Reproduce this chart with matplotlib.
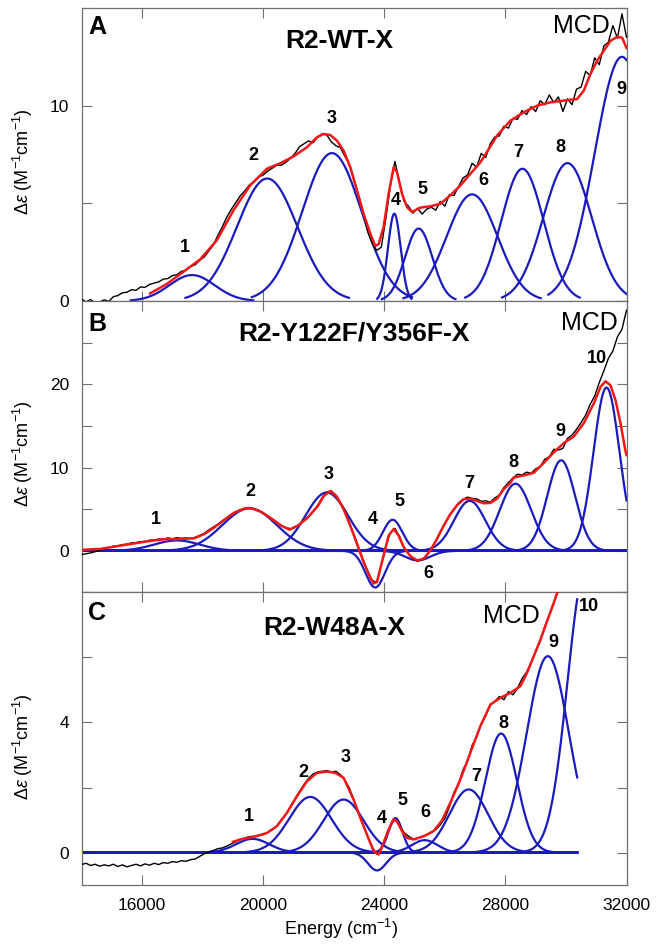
import matplotlib
matplotlib.use('Agg')
import matplotlib.pyplot as plt
import numpy as np

plt.rcParams['font.family'] = ['Liberation Sans', 'DejaVu Sans']
plt.rcParams['mathtext.fontset'] = 'custom'
plt.rcParams['mathtext.rm'] = 'Liberation Sans'
plt.rcParams['mathtext.it'] = 'Liberation Sans:italic'
plt.rcParams['mathtext.bf'] = 'Liberation Sans:bold'

# ---------------- data ----------------
# measured MCD spectra (black), sampled every 150 cm-1
energy = np.arange(14000, 32001, 150)

mcd_a = [0.10, -0.05, 0.08, -0.10, -0.05, 0.06, -0.02, 0.22, 0.28, 0.42,
         0.45, 0.58, 0.55, 0.72, 0.70, 0.85, 0.92, 0.98, 1.12, 1.15,
         1.30, 1.35, 1.52, 1.58, 1.78, 1.85, 2.08, 2.25, 2.55, 2.85,
         3.35, 3.80, 4.30, 4.70, 5.05, 5.40, 5.65, 5.95, 6.10, 6.35,
         6.45, 6.65, 6.80, 6.95, 6.95, 7.10, 7.30, 7.55, 7.90, 8.05,
         8.20, 8.10, 8.40, 8.55, 8.50, 8.15, 7.95, 7.85, 7.40, 7.00,
         6.20, 5.40, 4.55, 3.55, 2.95, 2.60, 2.75, 4.20, 5.90, 7.15,
         6.10, 5.10, 4.85, 4.50, 4.75, 4.45, 4.70, 4.80, 4.65, 5.10,
         4.85, 5.45, 5.40, 5.85, 6.30, 6.45, 7.05, 6.85, 7.55, 7.35,
         8.05, 8.40, 8.45, 8.95, 8.85, 9.35, 9.30, 9.75, 9.55, 9.95,
         9.70, 10.25, 10.05, 10.55, 10.15, 10.45, 9.70, 10.35, 10.05, 10.85,
         10.95, 11.75, 11.55, 12.45, 12.10, 13.05, 13.25, 14.10, 13.45, 14.70,
         13.50]

mcd_b = [-0.45, -0.35, -0.25, -0.10, 0.05, 0.25, 0.40, 0.55, 0.60, 0.75,
         0.80, 0.95, 0.98, 1.10, 1.12, 1.28, 1.30, 1.42, 1.40, 1.55,
         1.45, 1.58, 1.50, 1.55, 1.48, 1.62, 1.85, 2.10, 2.50, 2.85,
         3.20, 3.60, 4.00, 4.40, 4.70, 4.95, 5.10, 5.20, 5.05, 4.85,
         4.55, 4.20, 3.85, 3.45, 3.05, 2.80, 2.65, 2.90, 3.20, 3.70,
         4.15, 4.80, 5.45, 6.40, 7.05, 7.20, 6.70, 5.80, 4.90, 3.35,
         1.95, 0.45, -1.05, -2.40, -3.55, -3.80, -1.65, 0.55, 2.15, 2.70,
         1.75, 0.45, -0.30, -0.95, -1.25, -1.05, -0.60, 0.25, 1.20, 2.30,
         3.20, 4.30, 4.90, 5.75, 6.20, 6.45, 6.30, 6.25, 5.95, 6.00,
         5.85, 6.35, 6.70, 7.60, 8.20, 8.75, 9.20, 9.10, 9.45, 9.30,
         9.85, 10.10, 11.00, 11.30, 12.20, 12.10, 12.30, 13.50, 13.90, 14.60,
         15.40, 16.30, 17.60, 18.60, 20.20, 21.60, 23.10, 24.00, 25.70, 26.60,
         28.90]

energy_c = np.arange(14000, 30051, 150)
mcd_c = [-0.37, -0.33, -0.40, -0.36, -0.42, -0.38, -0.41, -0.36, -0.43, -0.38,
         -0.44, -0.40, -0.36, -0.41, -0.35, -0.39, -0.33, -0.37, -0.31, -0.33,
         -0.28, -0.30, -0.25, -0.27, -0.22, -0.20, -0.12, -0.04, 0.02, 0.06,
         0.12, 0.14, 0.20, 0.27, 0.33, 0.40, 0.45, 0.49, 0.50, 0.52,
         0.55, 0.62, 0.70, 0.82, 1.00, 1.18, 1.42, 1.65, 1.88, 2.10,
         2.28, 2.42, 2.48, 2.50, 2.52, 2.48, 2.50, 2.40, 2.22, 1.98,
         1.60, 1.22, 0.85, 0.50, 0.18, -0.05, 0.10, 0.50, 0.82, 1.02,
         0.85, 0.62, 0.50, 0.42, 0.44, 0.50, 0.53, 0.62, 0.70, 0.85,
         1.05, 1.40, 1.85, 2.10, 2.55, 2.80, 3.30, 3.55, 3.95, 4.20,
         4.55, 4.65, 4.80, 4.70, 4.95, 4.85, 5.05, 5.35, 5.55, 5.85,
         6.20, 6.50, 6.95, 7.30, 7.70, 8.05, 8.45, 8.90]

# fitted spectra (red)
fit_a_e = [16265, 16817, 17368, 17918, 18470, 19018, 19570, 20122, 20562, 21003,
           21444, 21775, 21994, 22215, 22436, 22655, 22877, 23098, 23316, 23538,
           23703, 23813, 23978, 24143, 24309, 24419, 24585, 24750, 24915, 25190,
           25521, 25852, 26182, 26513, 26843, 27174, 27284, 27725, 28165, 28606,
           29047, 29488, 29928, 30369, 30589, 30809, 31030, 31250, 31471, 31691,
           31856, 32000]
fit_a = [0.39, 0.87, 1.50, 2.13, 3.11, 4.64, 5.92, 6.77, 7.05, 7.40,
         7.87, 8.38, 8.55, 8.50, 8.21, 7.70, 6.85, 5.66, 4.47, 3.45,
         2.82, 2.91, 3.79, 5.49, 6.85, 6.60, 5.49, 4.81, 4.56, 4.78,
         4.85, 4.98, 5.41, 5.92, 6.51, 7.10, 7.36, 8.47, 9.23, 9.66,
         10.00, 10.17, 10.26, 10.34, 10.77, 11.62, 12.30, 12.81, 13.32, 13.52,
         13.48, 12.95]

fit_b_e = [14000, 14645, 15085, 15636, 16188, 16738, 17290, 17729, 18060, 18390,
           18721, 19052, 19382, 19604, 19934, 20265, 20595, 20870, 21148, 21478,
           21809, 22000, 22215, 22436, 22655, 22877, 23098, 23316, 23538, 23648,
           23759, 23978, 24143, 24309, 24474, 24639, 24860, 25080, 25300, 25521,
           25741, 25961, 26182, 26402, 26622, 26843, 27063, 27284, 27504, 27725,
           27945, 28165, 28276, 28606, 28937, 29267, 29598, 29928, 30259, 30589,
           30920, 31141, 31306, 31471, 31637, 31802, 31967, 32000]
fit_b = [0.12, 0.24, 0.50, 0.83, 1.15, 1.39, 1.43, 1.51, 2.02, 2.82,
         3.73, 4.60, 5.08, 5.12, 4.68, 3.89, 3.02, 2.54, 3.02, 4.01,
         5.39, 6.60, 7.18, 6.50, 5.00, 3.02, 0.83, -1.35, -3.25, -3.93,
         -3.73, -0.56, 1.82, 2.62, 1.82, 0.44, -0.63, -1.15, -0.95, 0.04,
         1.43, 3.02, 4.40, 5.48, 6.19, 6.27, 5.99, 5.71, 5.75, 6.27,
         7.40, 8.17, 8.80, 9.05, 9.37, 10.56, 11.82, 12.94, 13.73, 15.32,
         17.70, 19.68, 20.36, 19.88, 18.10, 15.32, 11.94, 11.50]

fit_c_e = [19000, 19240, 19681, 20122, 20453, 20784, 21114, 21445, 21775, 22106,
           22381, 22655, 22986, 23207, 23428, 23648, 23813, 23978, 24143, 24309,
           24419, 24585, 24750, 24971, 25300, 25631, 25900, 26182, 26513, 26843,
           27174, 27504, 27835, 28165, 28496, 28716, 28937, 29158, 29378, 29598,
           29730]
fit_c = [0.33, 0.40, 0.48, 0.60, 0.81, 1.22, 1.73, 2.19, 2.45, 2.49,
         2.45, 2.30, 1.63, 1.07, 0.55, 0.04, -0.06, 0.30, 0.71, 1.02,
         0.96, 0.66, 0.45, 0.40, 0.50, 0.66, 0.98, 1.53, 2.25, 3.07,
         3.89, 4.55, 4.76, 4.91, 5.12, 5.53, 6.04, 6.55, 7.12, 7.68,
         8.04]

# Gaussian bands (blue): centre (cm-1), height, sigma (cm-1)
cen_a = [17650, 20133, 22270, 24331, 25135, 26900, 28563, 30051, 31850]
amp_a = [1.33, 6.27, 7.57, 4.47, 3.71, 5.46, 6.77, 7.06, 12.5]
sig_a = [750, 1000, 980, 210, 450, 840, 700, 800, 900]

cen_b = [17150, 19550, 22100, 23700, 24275, 25100, 26820, 28332, 29841, 31340]
amp_b = [1.25, 5.1, 7.0, -4.4, 3.73, -1.15, 6.0, 8.06, 10.87, 19.6]
sig_b = [750, 900, 700, 320, 320, 420, 520, 520, 460, 430]

cen_c = [19650, 21555, 22655, 23760, 24370, 25330, 26788, 27858, 29400, 30655]
amp_c = [0.42, 1.71, 1.63, -0.55, 1.06, 0.38, 1.94, 3.66, 6.04, 8.72]
sig_c = [550, 700, 660, 300, 230, 420, 640, 520, 700, 600]

BLUE = '#1b1bbd'
RED = '#f01818'
GRAY = '#707070'


def band(e, c, h, s):
    return h * np.exp(-(e - c) ** 2 / (2.0 * s ** 2))


fig = plt.figure(figsize=(6.59, 9.49), dpi=100)
left, width = 0.1237, 0.8270
ax_a = fig.add_axes([left, 0.6828, width, 0.3088])
ax_b = fig.add_axes([left, 0.3757, width, 0.3071])
ax_c = fig.add_axes([left, 0.0674, width, 0.3083])

# Panel A: bands drawn over +-2.7 sigma only
for c, h, s in zip(cen_a, amp_a, sig_a):
    e = np.linspace(max(14000, c - 2.7 * s), min(32000, c + 2.7 * s), 300)
    ax_a.plot(e, band(e, c, h, s), color=BLUE, lw=1.6, zorder=2)
ax_a.plot(energy, mcd_a, color='black', lw=1.0, zorder=3)
ax_a.plot(fit_a_e, fit_a, color=RED, lw=1.8, zorder=4)

# Panel B: bands over the whole range
e_b = np.linspace(14000, 32000, 1200)
for c, h, s in zip(cen_b, amp_b, sig_b):
    ax_b.plot(e_b, band(e_b, c, h, s), color=BLUE, lw=1.6, zorder=2)
ax_b.plot(energy, mcd_b, color='black', lw=1.0, zorder=3)
ax_b.plot(fit_b_e, fit_b, color=RED, lw=1.8, zorder=4)

# Panel C: bands up to 30370 cm-1
e_c = np.linspace(14000, 30370, 1100)
for c, h, s in zip(cen_c, amp_c, sig_c):
    ax_c.plot(e_c, band(e_c, c, h, s), color=BLUE, lw=1.6, zorder=2)
ax_c.plot(energy_c, mcd_c, color='black', lw=1.0, zorder=3)
ax_c.plot(fit_c_e, fit_c, color=RED, lw=1.8, zorder=4)

# band numbers
labels_a = [(17420, 2.76, '1'), (19680, 7.45, '2'), (22270, 9.32, '3'),
            (24364, 5.15, '4'), (25247, 5.7, '5'), (27263, 6.17, '6'),
            (28410, 7.62, '7'), (29820, 7.87, '8'), (31836, 10.85, '9')]
labels_b = [(16463, 3.81, '1'), (19571, 7.18, '2'), (22159, 9.17, '3'),
            (23614, 3.81, '4'), (24507, 5.87, '5'), (25466, -2.74, '6'),
            (26821, 8.1, '7'), (28255, 10.6, '8'), (29820, 14.3, '9'),
            (31033, 23.06, '10')]
labels_c = [(19515, 1.12, '1'), (21313, 2.47, '2'), (22711, 2.93, '3'),
            (23924, 1.05, '4'), (24585, 1.61, '5'), (25356, 1.22, '6'),
            (27032, 2.33, '7'), (27945, 3.97, '8'), (29577, 6.47, '9'),
            (30745, 7.58, '10')]

panels = [
    (ax_a, labels_a, 'A', 'R2-WT-X', (22513, 13.3), (30513, 14.1),
     (0, 15), [0, 5, 10, 15], {0: '0', 10: '10'}, 0.935),
    (ax_b, labels_b, 'B', 'R2-Y122F/Y356F-X', (23009, 26.07), (30778, 27.4),
     (-5, 30), [-5, 0, 5, 10, 15, 20, 25, 30], {0: '0', 10: '10', 20: '20'}, 0.921),
    (ax_c, labels_c, 'C', 'R2-W48A-X', (22348, 6.91), (28200, 7.29),
     (-1, 8), [0, 2, 4, 6, 8], {0: '0', 4: '4'}, 0.929),
]

for ax, labs, letter, title, tpos, mpos, ylim, yt, ylab, ly in panels:
    for x, y, t in labs:
        ax.text(x, y, t, fontsize=13, fontweight='bold', ha='center', va='center')
    ax.text(0.029, ly, letter, transform=ax.transAxes, fontsize=18,
            fontweight='bold', ha='center', va='center')
    ax.text(tpos[0], tpos[1], title, fontsize=19, fontweight='bold',
            ha='center', va='center')
    ax.text(mpos[0], mpos[1], 'MCD', fontsize=18, ha='center', va='center')

    ax.set_xlim(14000, 32000)
    ax.set_ylim(*ylim)
    ax.set_xticks([16000, 20000, 24000, 28000, 32000])
    ax.set_yticks(yt)
    ax.set_yticklabels([ylab.get(v, '') for v in yt])
    ax.tick_params(direction='in', top=True, right=True, length=7,
                   width=0.8, color=GRAY, labelsize=12.5, pad=9)
    for sp in ax.spines.values():
        sp.set_color(GRAY)
        sp.set_linewidth(0.9)
    ax.set_ylabel(r'$\it{\Delta\varepsilon}$ (M$^{-1}$cm$^{-1}$)', fontsize=13)
    ax.yaxis.set_label_coords(-0.085, 0.475)
    if ax is not ax_c:
        ax.set_xticklabels([])

ax_c.set_xlabel('Energy (cm$^{-1}$)', fontsize=13)
ax_c.xaxis.set_label_coords(0.476, -0.11)

fig.savefig('out.png', dpi=100)
